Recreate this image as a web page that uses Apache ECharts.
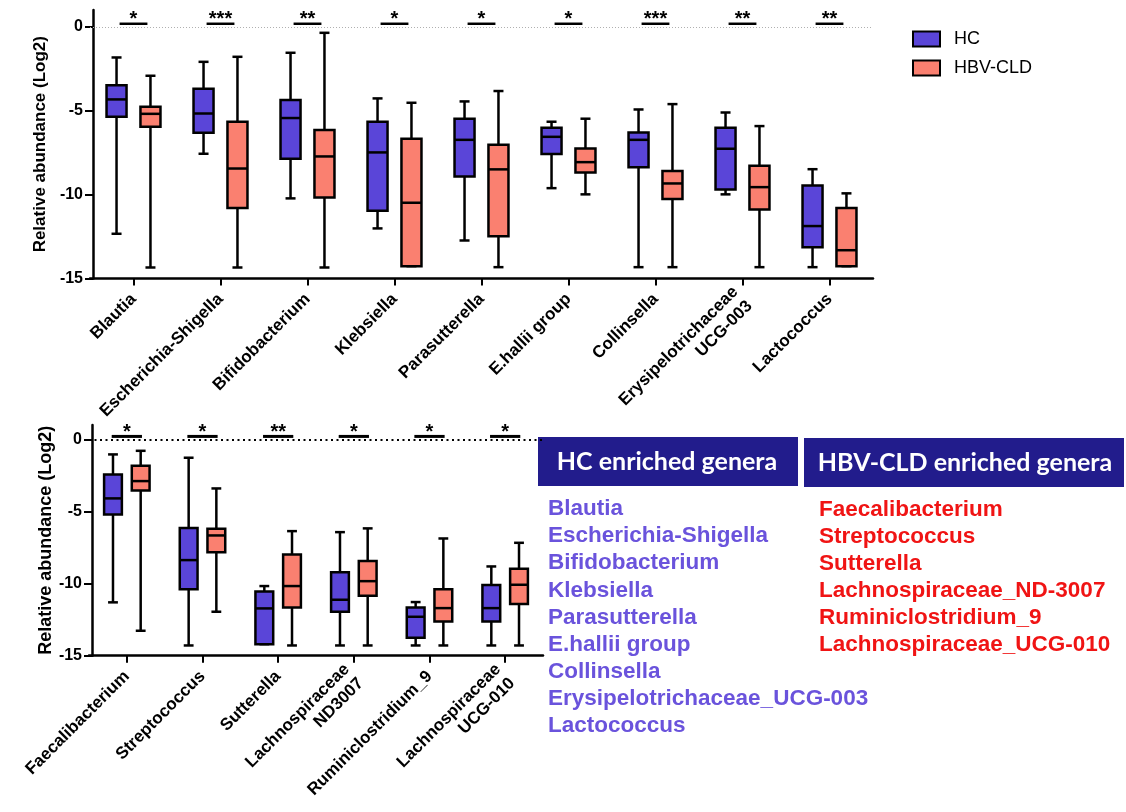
<!DOCTYPE html>
<html><head><meta charset="utf-8">
<script src="https://cdn.jsdelivr.net/npm/echarts@6/dist/echarts.min.js"></script>
<style>html,body{margin:0;padding:0;background:#fff}#c{width:1126px;height:812px}</style>
</head><body><div id="c"></div>
<script>
// ---------- DATA ----------
const topCategories = ['Blautia','Escherichia-Shigella','Bifidobacterium','Klebsiella','Parasutterella','E.hallii group','Collinsella','Erysipelotrichaceae\nUCG-003','Lactococcus'];
// each row: [min, Q1, median, Q3, max]
const topHC = [
  [-12.34,-5.37,-4.33,-3.48,-1.83],
  [-7.57,-6.32,-5.17,-3.70,-2.09],
  [-10.23,-7.87,-5.44,-4.37,-1.55],
  [-12.02,-10.97,-7.49,-5.66,-4.27],
  [-12.74,-8.92,-6.74,-5.48,-4.45],
  [-9.62,-7.59,-6.56,-6.02,-5.66],
  [-14.33,-8.37,-6.74,-6.30,-4.93],
  [-9.99,-9.70,-7.27,-6.02,-5.11],
  [-14.33,-13.14,-11.88,-9.46,-8.49]
];
const topHBV = [
  [-14.35,-5.96,-5.19,-4.77,-2.92],
  [-14.35,-10.81,-8.45,-5.66,-1.79],
  [-14.35,-10.17,-7.73,-6.16,-0.36],
  [-14.27,-14.27,-10.49,-6.68,-4.53],
  [-14.33,-12.48,-8.50,-7.03,-3.83],
  [-9.99,-8.68,-8.07,-7.25,-5.48],
  [-14.33,-10.26,-9.34,-8.60,-4.61],
  [-14.33,-10.89,-9.56,-8.29,-5.92],
  [-14.27,-14.27,-13.32,-10.81,-9.93]
];
const topSig = ['*','***','**','*','*','*','***','**','**'];

const bottomCategories = ['Faecalibacterium','Streptococcus','Sutterella','Lachnospiraceae\nND3007','Ruminiclostridium_9','Lachnospiraceae\nUCG-010'];
const bottomHC = [
  [-11.30,-5.20,-4.09,-2.43,-1.04],
  [-14.29,-10.40,-8.37,-6.15,-1.27],
  [-14.20,-14.20,-11.72,-10.54,-10.17],
  [-14.29,-11.95,-11.12,-9.22,-6.43],
  [-14.29,-13.76,-12.30,-11.65,-11.28],
  [-14.29,-12.62,-11.70,-10.10,-8.81]
];
const bottomHBV = [
  [-13.27,-3.54,-2.89,-1.83,-0.79],
  [-11.95,-7.82,-6.66,-6.20,-3.40],
  [-14.29,-11.65,-10.17,-7.98,-6.36],
  [-14.29,-10.85,-9.83,-8.44,-6.17],
  [-14.29,-12.62,-11.70,-10.40,-6.87],
  [-14.29,-11.42,-10.08,-8.97,-7.17]
];
const bottomSig = ['*','*','**','*','*','*'];

const yTicks = [-15,-10,-5,0];
const groupNames = ['HC','HBV-CLD'];
const hcEnriched = ['Blautia','Escherichia-Shigella','Bifidobacterium','Klebsiella','Parasutterella','E.hallii group','Collinsella','Erysipelotrichaceae_UCG-003','Lactococcus'];
const hbvEnriched = ['Faecalibacterium','Streptococcus','Sutterella','Lachnospiraceae_ND-3007','Ruminiclostridium_9','Lachnospiraceae_UCG-010'];
const headers = ['HC enriched genera','HBV-CLD enriched genera'];

// ---------- STYLE ----------
const HC_COLOR = '#5a45d8';
const HBV_COLOR = '#fa8070';
const FONT = '"Liberation Sans", Arial, sans-serif';
const LW = 2.5;

function boxRenderer(dir, offFrac, widthFrac, capFrac, color) {
  return function (params, api) {
    const c = api.value(0);
    const p = [1,2,3,4,5].map(i => api.coord([c, api.value(i)]));
    const band = api.size([1, 0])[0];
    const cx = p[0][0] + dir * band * offFrac;
    const bw = band * widthFrac, cw = band * capFrac;
    const ls = {stroke: '#000', lineWidth: LW};
    return {type: 'group', children: [
      {type: 'line', shape: {x1: cx, y1: p[4][1], x2: cx, y2: p[3][1]}, style: ls},
      {type: 'line', shape: {x1: cx, y1: p[1][1], x2: cx, y2: p[0][1]}, style: ls},
      {type: 'line', shape: {x1: cx - cw/2, y1: p[4][1], x2: cx + cw/2, y2: p[4][1]}, style: ls},
      {type: 'line', shape: {x1: cx - cw/2, y1: p[0][1], x2: cx + cw/2, y2: p[0][1]}, style: ls},
      {type: 'rect', shape: {x: cx - bw/2, y: p[3][1], width: bw, height: p[1][1] - p[3][1]},
        style: {fill: color, stroke: '#000', lineWidth: LW}},
      {type: 'line', shape: {x1: cx - bw/2, y1: p[2][1], x2: cx + bw/2, y2: p[2][1]}, style: ls}
    ]};
  };
}
function sigRenderer(labels, frac, lineW) {
  return function (params, api) {
    const p = api.coord([api.value(0), api.value(1)]);
    const band = api.size([1, 0])[0];
    const w = band * frac;
    return {type: 'group', children: [
      {type: 'line', shape: {x1: p[0] - w/2, y1: p[1] - 3, x2: p[0] + w/2, y2: p[1] - 3},
        style: {stroke: '#000', lineWidth: lineW}},
      {type: 'text', style: {text: labels[params.dataIndex], x: p[0], y: p[1] - 7,
        align: 'center', verticalAlign: 'middle', font: 'bold 20px ' + FONT, fill: '#000'}}
    ]};
  };
}

function xAxisCfg(gridIndex, cats) {
  return {
    type: 'category', gridIndex, data: cats,
    axisLine: {onZero: false, lineStyle: {color: '#000', width: LW}},
    axisTick: {show: true, alignWithLabel: true, length: 7, lineStyle: {color: '#000', width: 2}},
    axisLabel: {rotate: 45, interval: 0, margin: 18, fontSize: 17, fontWeight: 'bold',
      fontFamily: FONT, color: '#000', lineHeight: 20},
    splitLine: {show: false}
  };
}
function yAxisCfg(gridIndex, nameSize) {
  return {
    type: 'value', gridIndex, min: -15, max: 1, interval: 5, offset: -3,
    name: 'Relative abundance (Log2)', nameLocation: 'middle', nameGap: 36,
    nameTextStyle: {fontSize: nameSize, fontWeight: 'bold', fontFamily: FONT, color: '#000'},
    axisLine: {show: true, onZero: false, lineStyle: {color: '#000', width: LW}},
    axisTick: {show: true, length: 8, customValues: yTicks, lineStyle: {color: '#000', width: 2}},
    axisLabel: {customValues: yTicks, margin: 10, fontSize: 16, fontWeight: 'bold', fontFamily: FONT, color: '#000'},
    splitLine: {show: false}
  };
}

function boxSeries(name, data, xi, dir, off, wf, cf, color) {
  return {
    type: 'custom', name, xAxisIndex: xi, yAxisIndex: xi,
    itemStyle: {color},
    data: data.map((d, i) => [i, ...d]),
    encode: {x: 0, y: [1,2,3,4,5]},
    renderItem: boxRenderer(dir, off, wf, cf, color),
    z: 3
  };
}

const graphics = [];
graphics.push({type: 'rect', shape: {x: 538, y: 437, width: 260, height: 49}, style: {fill: '#221c8c'}});
graphics.push({type: 'rect', shape: {x: 804, y: 438, width: 320, height: 49}, style: {fill: '#221c8c'}});
graphics.push({type: 'text', style: {text: headers[0], x: 667, y: 462, align: 'center', verticalAlign: 'middle',
  font: 'bold 25px Lato, "Open Sans", sans-serif', fill: '#fff'}});
graphics.push({type: 'text', style: {text: headers[1], x: 965, y: 463, align: 'center', verticalAlign: 'middle',
  font: 'bold 25px Lato, "Open Sans", sans-serif', fill: '#fff'}});
hcEnriched.forEach((t, i) => graphics.push({type: 'text', style: {text: t, x: 548, y: 509 + i * 27.1,
  align: 'left', verticalAlign: 'middle', font: 'bold 22.5px ' + FONT, fill: '#6a53dc'}}));
hbvEnriched.forEach((t, i) => graphics.push({type: 'text', style: {text: t, x: 819, y: 510 + i * 26.9,
  align: 'left', verticalAlign: 'middle', font: 'bold 22.5px ' + FONT, fill: '#f01414'}}));

const option = {
  animation: false,
  backgroundColor: '#fff',
  grid: [
    {left: 90, top: 10, width: 783, height: 268.4},
    {left: 89, top: 425, width: 454, height: 230.7}
  ],
  legend: {
    orient: 'vertical', left: 912, top: 30, padding: 0, itemWidth: 27, itemHeight: 15, itemGap: 11,
    icon: 'rect', data: groupNames,
    itemStyle: {borderColor: '#000', borderWidth: 2},
    textStyle: {fontSize: 18, fontFamily: FONT, color: '#000', padding: [0, 0, 0, 9]}
  },
  xAxis: [xAxisCfg(0, topCategories), xAxisCfg(1, bottomCategories)],
  yAxis: [yAxisCfg(0, 17), yAxisCfg(1, 18)],
  graphic: graphics,
  series: [
    boxSeries(groupNames[0], topHC, 0, -1, 0.195, 0.23, 0.115, HC_COLOR),
    boxSeries(groupNames[1], topHBV, 0, 1, 0.195, 0.23, 0.115, HBV_COLOR),
    boxSeries(groupNames[0], bottomHC, 1, -1, 0.183, 0.235, 0.13, HC_COLOR),
    boxSeries(groupNames[1], bottomHBV, 1, 1, 0.183, 0.235, 0.13, HBV_COLOR),
    {
      type: 'custom', name: 'sigTop', xAxisIndex: 0, yAxisIndex: 0,
      data: topSig.map((s, i) => [i, 0]), encode: {x: 0, y: 1},
      renderItem: sigRenderer(topSig, 0.32, 2.5), z: 4,
      markLine: {silent: true, symbol: 'none', label: {show: false}, emphasis: {disabled: true},
        lineStyle: {type: [1, 2], color: '#b0b0b0', width: 1}, data: [{yAxis: 0}], z: 1}
    },
    {
      type: 'custom', name: 'sigBottom', xAxisIndex: 1, yAxisIndex: 1,
      data: bottomSig.map((s, i) => [i, 0]), encode: {x: 0, y: 1},
      renderItem: sigRenderer(bottomSig, 0.4, 3), z: 4,
      markLine: {silent: true, symbol: 'none', label: {show: false}, emphasis: {disabled: true},
        lineStyle: {type: [2, 3.5], color: '#000', width: 2.2}, data: [{yAxis: 0}], z: 1}
    }
  ]
};
const chart = echarts.init(document.getElementById('c'), null, {renderer: 'canvas'});
chart.setOption(option);
</script></body></html>
